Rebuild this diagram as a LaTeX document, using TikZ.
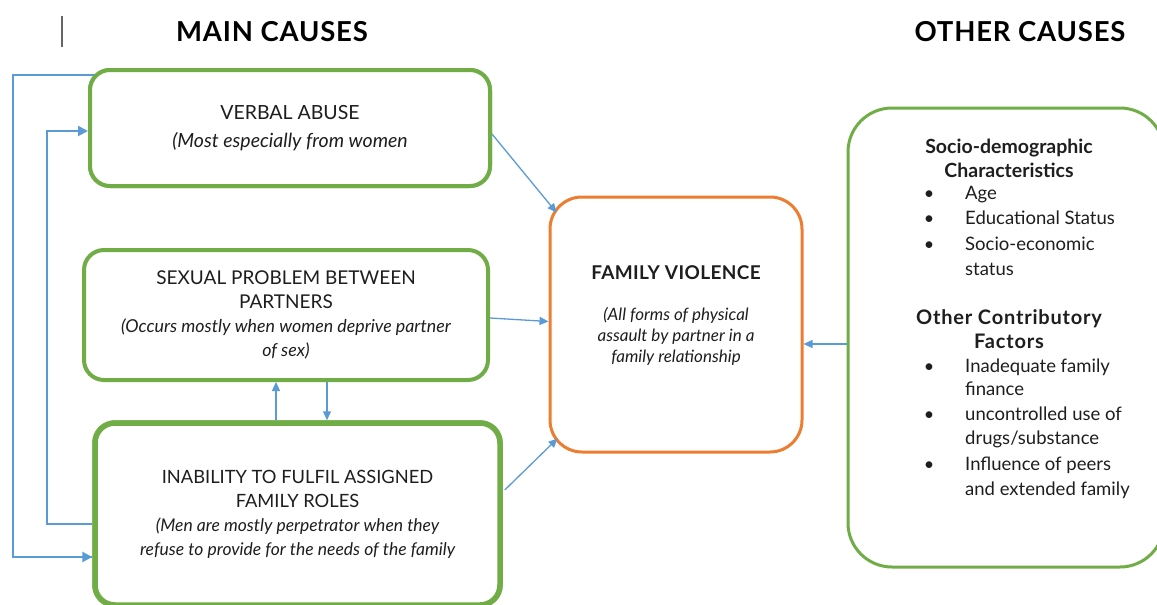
\documentclass[tikz,border=0pt]{standalone}
\usepackage{fontspec}
\setmainfont{Lato}
\usetikzlibrary{arrows.meta,calc}
\definecolor{cgreen}{HTML}{70AD47}
\definecolor{corange}{HTML}{ED7D31}
\definecolor{cblue}{HTML}{5B9BD5}
\definecolor{ctext}{HTML}{1E1E1E}
\newcommand\itline[2]{{\fontsize{#1}{24}\selectfont\itshape #2}}
\tikzset{
  causebox/.style={draw=cgreen, line width=4pt, rounded corners=20pt, fill=white, align=center, text=ctext,
    inner sep=0pt},
  centerbox/.style={draw=corange, line width=3pt, rounded corners=32pt, fill=white},
  otherbox/.style={draw=cgreen, line width=3pt, rounded corners=44pt, fill=white},
  link/.style={draw=cblue, line width=1.3pt, -{Triangle[width=8pt,length=9pt]}},
  loopline/.style={draw=cblue, line width=2.5pt},
  title/.style={font=\fontsize{27.5}{32}\selectfont\bfseries\addfontfeature{LetterSpace=3}, text=black},
  head/.style={font=\fontsize{19.5}{24}\selectfont\bfseries, text=ctext, align=center},
  item/.style={font=\fontsize{18.5}{22}\selectfont, text=ctext, anchor=base west, inner sep=0pt},
  bul/.style={font=\fontsize{18}{22}\selectfont, text=ctext, anchor=base, inner sep=0pt},
}
\begin{document}
\begin{tikzpicture}[x=1pt,y=-1pt]
\useasboundingbox (0,0) rectangle (1157,605);
\fill[white] (0,0) rectangle (1157,605);

% cursor mark
\draw[black!60, line width=1.2pt] (62,16) -- (62,47);

% titles
\node[title] (tmain) at (272,32) {MAIN CAUSES};
\node[title] (tother) at (1020,32) {OTHER CAUSES};

% coordinates for loops
\coordinate (o1) at (13,75);
\coordinate (i1) at (47,524);

% loop lines (drawn first, boxes cover their starts)
\node[causebox, minimum width=400pt, minimum height=116pt] (va) at (290,128) {};
\node[causebox, minimum width=405pt, minimum height=182pt, line width=5.5pt] (in) at (297.5,514) {};
\coordinate (vs) at ($(va.west)+(8,0)$);
\draw[loopline] (vs |- o1) -- (o1) |- ($(in.west)+(0,43)$) coordinate (o2);
\draw[cblue, line width=2.5pt, -{Triangle[width=10pt,length=10pt]}] ($(o2)+(-1,0)$) -- (o2);
\draw[loopline] ($(in.west)+(0,10)$) -- (i1) |- ($(va.west)+(-10,3)$);
\draw[cblue, line width=2pt, -{Triangle[width=10pt,length=10pt]}] ($(va.west)+(-11,3)$) -- ($(va.west)+(0,3)$);

% boxes
\node[causebox, minimum width=400pt, minimum height=116pt, font=\fontsize{19.5}{24}\selectfont] (va) at (290,128)
  {VERBAL ABUSE\\[4pt] \itline{19.5}{(Most especially from women}};
\node[causebox, minimum width=404pt, minimum height=130pt, font=\fontsize{19}{24}\selectfont] (sp) at (286,315)
  {SEXUAL PROBLEM BETWEEN\\ PARTNERS\\
   \itline{17.8}{(Occurs mostly when women deprive partner}\\ \itline{17.8}{of sex)}};
\node[causebox, minimum width=405pt, minimum height=182pt, line width=5.5pt, font=\fontsize{18.3}{24}\selectfont] (in) at (297.5,514)
  {INABILITY TO FULFIL ASSIGNED\\ FAMILY ROLES\\
   \itline{17.5}{(Men are mostly perpetrator when they}\\ \itline{17.5}{refuse to provide for the needs of the family}};

\node[centerbox, minimum width=252pt, minimum height=255pt] (fv) at (676,324.5) {};
\node[align=center, text=ctext, font=\fontsize{19}{22}\selectfont\bfseries\addfontfeature{LetterSpace=2}] (fvt) at (676,273) {FAMILY VIOLENCE};
\node[align=center, text=ctext, font=\fontsize{17}{21}\selectfont\itshape] (fvs) at (676,336)
  {(All forms of physical\\ assault by partner in a\\ family relationship};

\node[otherbox, minimum width=316pt, minimum height=459pt] (rb) at (1006,337.5) {};

% right box text
\node[head] (h1) at (1009,158) {Socio-demographic\\ Characteristics};
\node[bul] (b1) at (929,199) {•};
\node[item] (t1) at (965,199) {Age};
\node[bul] (b2) at (929,224) {•};
\node[item] (t2) at (965,224) {Educational Status};
\node[bul] (b3) at (929,250) {•};
\node[item] (t3) at (965,250) {Socio-economic};
\node[item] (t3b) at (965,275) {status};
\node[head, font=\fontsize{20}{24}\selectfont\bfseries\addfontfeature{LetterSpace=4}] (h2) at (1009,329) {Other Contributory\\ Factors};
\node[bul] (b4) at (929,372) {•};
\node[item] (t4) at (965,372) {Inadequate family};
\node[item] (t4b) at (965,395) {finance};
\node[bul] (b5) at (929,420) {•};
\node[item] (t5) at (965,420) {uncontrolled use of};
\node[item] (t5b) at (965,444) {drugs/substance};
\node[bul] (b6) at (929,470) {•};
\node[item] (t6) at (965,470) {Influence of peers};
\node[item] (t6b) at (965,495) {and extended family};

% connectors
\draw[link] ($(va.east)+(0,6)$) -- ($(fv.north west)+(8,17)$);
\draw[link] ($(sp.east)+(0,3)$) -- ($(fv.west)+(0,-3)$);
\draw[link] ($(in.east)+(2,-24)$) -- ($(fv.south west)+(9,-15)$);
\draw[link] ($(rb.west)+(0,6.5)$) -- ($(fv.east)+(0,19.5)$);
\draw[link] ($(in.north)+(-21.5,0)$) -- ($(sp.south)+(-10,0)$);
\draw[link] ($(sp.south)+(41,0)$) -- ($(in.north)+(29.5,0)$);
\end{tikzpicture}
\end{document}
